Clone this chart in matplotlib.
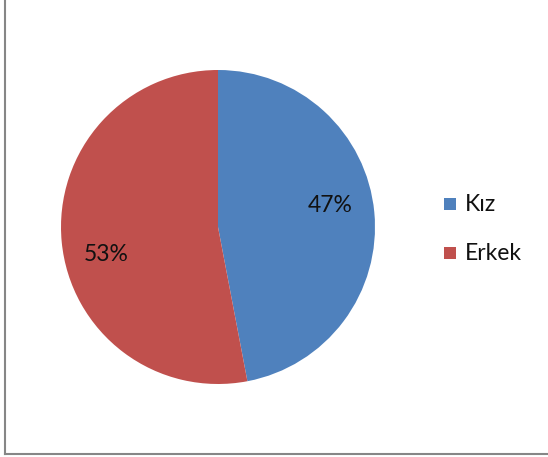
import numpy as np
import matplotlib
matplotlib.use('Agg')
import matplotlib.pyplot as plt
from matplotlib.lines import Line2D

plt.rcParams['font.family'] = ['Lato', 'DejaVu Sans']

# gender split
labels = ['Kız', 'Erkek']
shares = [47, 53]
colours = ['#4F81BD', '#C0504D']

W, H = 548, 457
fig = plt.figure(figsize=(W / 100, H / 100), dpi=100)

# pie centre (218, 227) px, radius 157 px
cx, cy, r = 218, 227, 157
ax = fig.add_axes([(cx - r) / W, (H - cy - r) / H, 2 * r / W, 2 * r / H])
wedges, _, pct = ax.pie(shares, colors=colours, startangle=90, counterclock=False,
                        autopct='%.0f%%', pctdistance=0.74, radius=1,
                        textprops={'fontsize': 16.5, 'color': '#111111'},
                        wedgeprops={'linewidth': 0})
ax.set_xlim(-1, 1)
ax.set_ylim(-1, 1)
ax.set_aspect('equal')
ax.axis('off')

# nudge the percentage labels a little counter-clockwise
for w, t in zip(wedges, pct):
  ang = np.deg2rad((w.theta1 + w.theta2) / 2 + 7)
  t.set_position((0.73 * np.cos(ang), 0.73 * np.sin(ang) - 0.02))

# legend on the right
leg_y = [204, 253]
for lab, col, y in zip(labels, colours, leg_y):
  fig.patches.append(plt.Rectangle((444 / W, (H - y - 6) / H), 12 / W, 12 / H,
                                   transform=fig.transFigure, facecolor=col,
                                   edgecolor='none', figure=fig))
  fig.text(465 / W, (H - y) / H, lab, fontsize=16.5, va='center', ha='left', color='#111111')

# chart frame (left and bottom edges)
fig.add_artist(Line2D([4.5 / W, 4.5 / W], [(H - 454) / H, 1], color='#868686', lw=1.5))
fig.add_artist(Line2D([4.5 / W, 1], [(H - 454) / H, (H - 454) / H], color='#868686', lw=1.5))

fig.savefig('out.png', dpi=100)
